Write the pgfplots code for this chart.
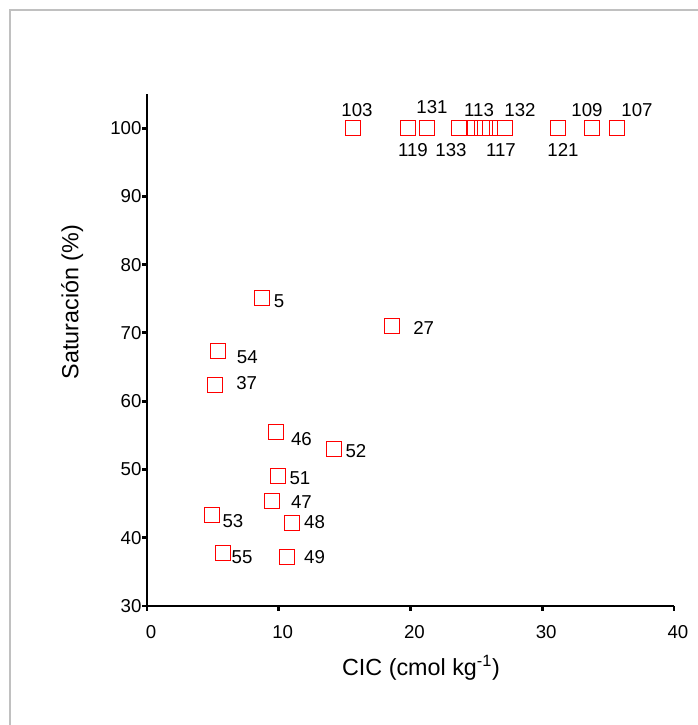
\documentclass[border=0pt]{standalone}
\usepackage{fontspec}
\setmainfont{Liberation Sans}
\usepackage{pgfplots}
\usepackage{pgfplotstable}
\pgfplotsset{compat=1.18}
\definecolor{framegray}{RGB}{192,192,192}

% x y label, label offset (pt) from the marker centre
\pgfplotstableread{
x     y      lab  dx     dy
15.64 100    103  3      13.9
19.81 100    119  3.75   -16.5
21.25 100    131  3.75   16.1
23.68 100    133  -6     -16.5
24.90 100    113  3      13.5
26.03 100    117  8.25   -16.5
27.17 100    132  11.25  13.5
31.20 100    121  3.75   -16.5
33.78 100    109  -3.75  13.5
35.67 100    107  15     13.5
8.73  75.10  5    12.75  -2.6
18.57 71.05  27   24     -1.5
5.41  67.38  54   21.75  -4.5
5.14  62.36  37   24     1.5
9.79  55.48  46   19.1   -5.25
14.19 52.99  52   16.5   -1.5
9.94  49.04  51   16.5   -1.5
9.49  45.38  47   22.1   -1.1
4.93  43.33  53   15.75  -4.5
11.01 42.15  48   16.9   0.75
5.77  37.76  55   14.25  -3.4
10.63 37.18  49   20.6   -0.4
}\labeled

% points of the crowded group at 100 that carry no label
\pgfplotstableread{
x     y
25.43 100
25.66 100
}\unlabeled

\begin{document}
\begin{tikzpicture}
\begin{axis}[
  at={(0,0)}, anchor=south west,
  scale only axis, width=395.25pt, height=384pt,
  xmin=0, xmax=40, ymin=30, ymax=105,
  axis x line=bottom, axis y line=left,
  axis line style={-, line width=1pt},
  xtick={0,10,...,40}, ytick={30,40,...,100},
  tick align=outside, major tick length=3.5pt,
  tick style={line width=2.2pt, black},
  /pgf/number format/assume math mode=true,
  ticklabel style={font=\fontsize{14}{14}\selectfont},
  xticklabel style={yshift=-7.5pt, xshift=3pt},
  yticklabel style={inner sep=0.5pt},
  xlabel={CIC (cmol kg\textsuperscript{-1})},
  ylabel={Saturación (\%)},
  label style={font=\fontsize{17.5}{17.5}\selectfont},
  xlabel style={at={(axis description cs:0.52,-0.121)}, anchor=center},
  ylabel style={at={(axis description cs:-0.142,0.594)}, anchor=center, rotate=0},
  clip=false,
]
\addplot[only marks, mark=square, mark size=5.6pt, red, line width=0.9pt,
  mark options={fill=white}] table[x=x, y=y] {\unlabeled};
\addplot[only marks, mark=square, mark size=5.6pt, red, line width=0.9pt,
  mark options={fill=white},
  point meta=explicit symbolic, nodes near coords,
  visualization depends on={\thisrow{dx} \as \dx},
  visualization depends on={\thisrow{dy} \as \dy},
  every node near coord/.append style={anchor=center, xshift=\dx pt, yshift=\dy pt,
    black, inner sep=0pt, font=\fontsize{14}{14}\selectfont}]
  table[x=x, y=y, meta=lab] {\labeled};
\end{axis}
\draw[framegray, line width=1.5pt] (413.25pt,447pt) -- (-102.4pt,447pt) -- (-102.4pt,-89.25pt);
\pgfresetboundingbox
\path (-110.25pt,-89.25pt) rectangle (413.25pt,454.5pt);
\end{tikzpicture}
\end{document}
